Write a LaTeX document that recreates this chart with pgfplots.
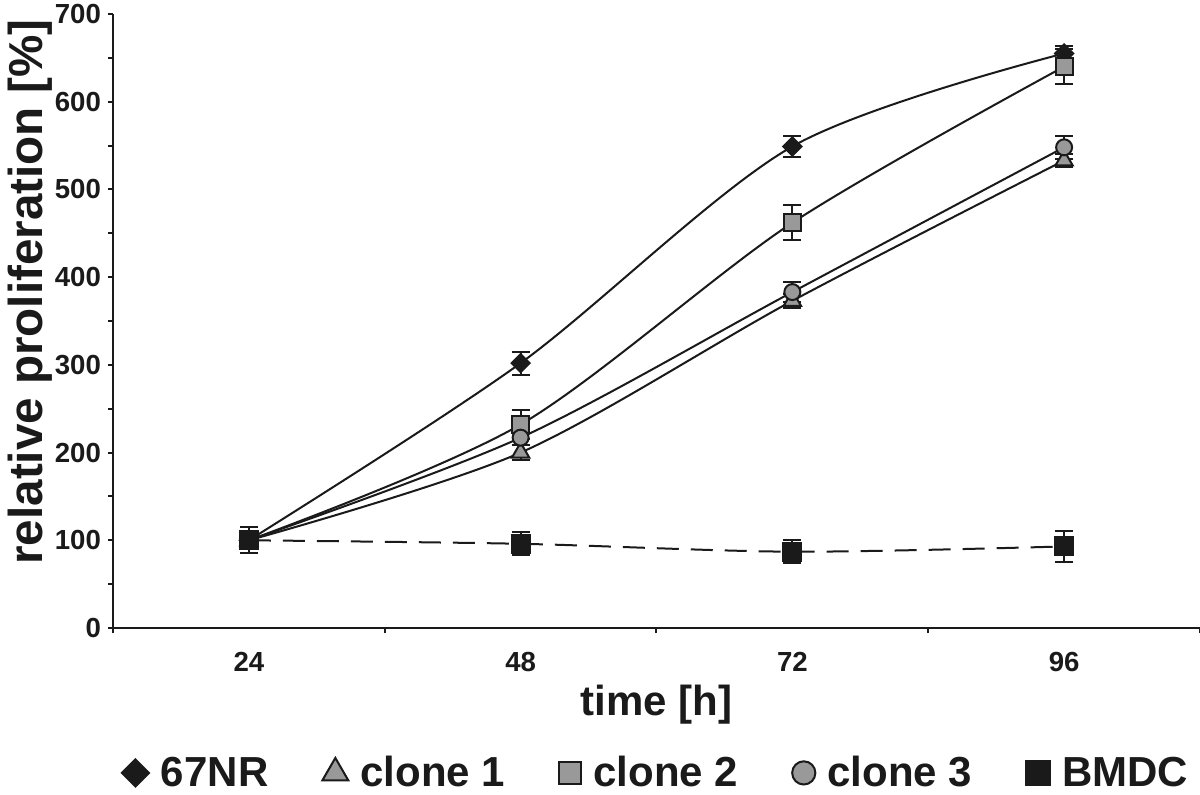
\documentclass[border=0pt]{standalone}
\usepackage{fontspec}
\setmainfont{Liberation Sans}
\usepackage{pgfplots}
\usepackage{pgfplotstable}
\pgfplotsset{compat=1.18}
\usetikzlibrary{calc}
\definecolor{mgray}{HTML}{999999}
\definecolor{ink}{HTML}{1A1A1A}
\pgfplotstableread{
x y e
24 100 5
48 302 13
72 549 12
96 655 9
}\tNR
\pgfplotstableread{
x y e
24 100 5
48 200 9
72 373 8
96 533 7
}\tCa
\pgfplotstableread{
x y e
24 100 8
48 232 17
72 462 20
96 640 20
}\tCb
\pgfplotstableread{
x y e
24 100 6
48 217 8
72 383 11
96 548 13
}\tCc
\pgfplotstableread{
x y e
24 100 15
48 96 13
72 87 13
96 93 18
}\tBM
\begin{document}
\begin{tikzpicture}
\begin{axis}[
  scale only axis, width=543.5pt, height=307pt,
  xmin=12, xmax=108, ymin=0, ymax=700,
  axis x line=bottom, axis y line=left,
  axis line style={-, line width=1pt, ink},
  tick align=outside,
  xtick={24,48,72,96}, minor xtick={12,36,60,84,108},
  ytick={0,100,...,700}, minor ytick={50,150,...,650},
  major tick length=2.5pt, minor tick length=2.5pt,
  tick style={line width=1pt, ink},
  major x tick style={draw=none},
  ticklabel style={font=\fontsize{13.8}{16}\selectfont\bfseries, text=ink},
  xticklabel style={yshift=-6pt},
  /pgf/number format/assume math mode=true,
  xlabel={time [h]}, ylabel={relative proliferation [\%]},
  xlabel style={font=\fontsize{21}{24}\selectfont\bfseries, text=ink, at={(rel axis cs:0.5,-0.1254)}, anchor=center},
  ylabel style={font=\fontsize{23.8}{26}\selectfont\bfseries, text=ink, at={(rel axis cs:-0.0763,0.547)}, anchor=center},
  legend columns=5,
  legend style={draw=none, fill=none, at={(0.4986,-0.236)}, anchor=center,
    font=\fontsize{21}{24}\selectfont\bfseries, text=ink,
    nodes={inner sep=0pt},
    /tikz/every odd column/.append style={column sep=6pt},
    /tikz/every even column/.append style={column sep=27pt}},
  legend image code/.code={\draw[#1] plot coordinates {(0cm,0cm)};},
  every axis plot/.append style={line width=1pt, ink},
  error bars/y dir=both, error bars/y explicit,
  error bars/error bar style={line width=1pt, ink, solid},
  error bars/error mark options={rotate=90, mark size=4.5pt, line width=1pt, ink, solid},
]
\coordinate (O) at (rel axis cs:0,0);
\addlegendimage{only marks, mark=square*, mark size=4.8pt, mark options={rotate=45, fill=ink, draw=ink}}
\addlegendentry{67NR}
\addlegendimage{only marks, mark=triangle*, mark size=7.5pt, mark options={fill=mgray, draw=ink, line width=1pt}}
\addlegendentry{clone 1}
\addlegendimage{only marks, mark=square*, mark size=5.6pt, mark options={fill=mgray, draw=ink, line width=1pt}}
\addlegendentry{clone 2}
\addlegendimage{only marks, mark=*, mark size=5.8pt, mark options={fill=mgray, draw=ink, line width=1pt}}
\addlegendentry{clone 3}
\addlegendimage{only marks, mark=square*, mark size=6pt, mark options={fill=ink, draw=ink}}
\addlegendentry{BMDC}

\addplot[smooth, forget plot, mark=square*, mark size=3.2pt, mark options={rotate=45, fill=ink, draw=ink}]
  table[x=x, y=y, y error=e] {\tNR};
\addplot[smooth, forget plot, mark=triangle*, mark size=5pt, mark options={fill=mgray, draw=ink, line width=1pt}]
  table[x=x, y=y, y error=e] {\tCa};
\addplot[smooth, forget plot, mark=square*, mark size=4.3pt, mark options={fill=mgray, draw=ink, line width=1pt}]
  table[x=x, y=y, y error=e] {\tCb};
\addplot[smooth, forget plot, mark=*, mark size=4pt, mark options={fill=mgray, draw=ink, line width=1pt}]
  table[x=x, y=y, y error=e] {\tCc};
\addplot[smooth, forget plot, dash pattern=on 11pt off 6pt, mark=square*, mark size=4.5pt, mark options={solid, fill=ink, draw=ink}]
  table[x=x, y=y, y error=e] {\tBM};
\end{axis}
\pgfresetboundingbox
\path[use as bounding box] ($(O)+(-56.5pt,-83pt)$) rectangle ($(O)+(543.5pt,314pt)$);
\end{tikzpicture}
\end{document}
